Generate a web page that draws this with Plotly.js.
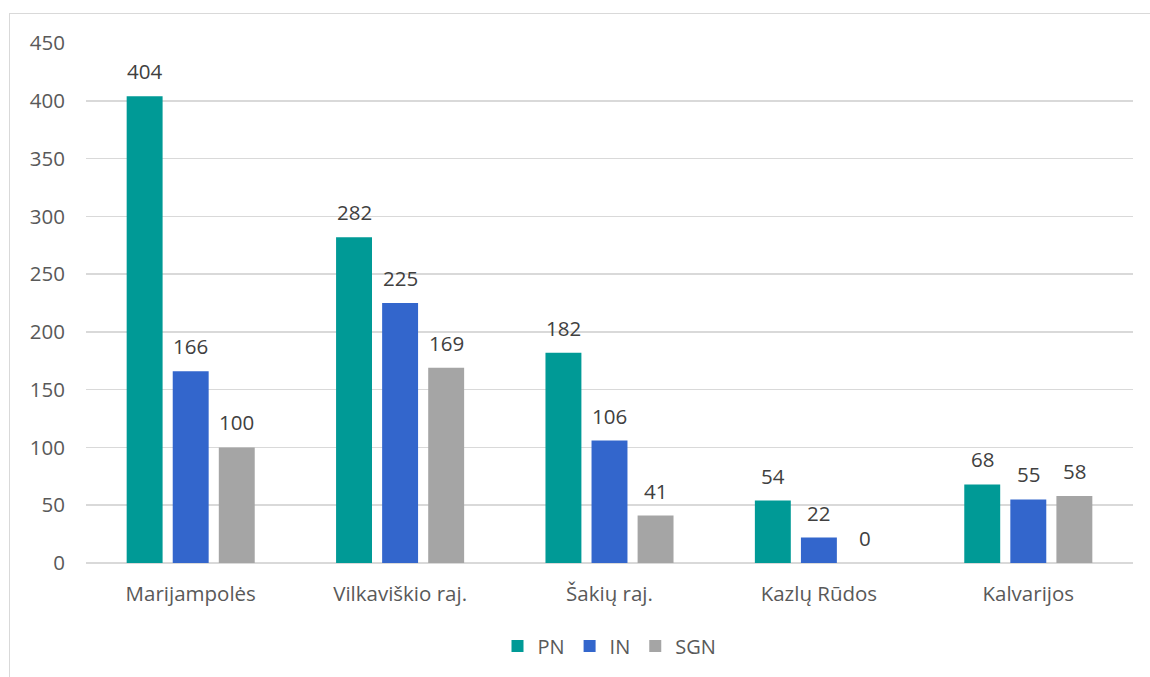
<!DOCTYPE html>
<html><head><meta charset="utf-8">
<script src="https://cdn.plot.ly/plotly-3.0.1.min.js"></script>
<style>
html,body{margin:0;padding:0;background:#fff;overflow:hidden;}
#chart{position:absolute;left:0;top:0;width:1150px;height:677px;}
#frame{position:absolute;left:9px;top:13px;width:1160px;height:700px;border:1px solid #d9d9d9;pointer-events:none;}
</style></head>
<body>
<div id="frame"></div>
<div id="chart"></div>
<script>
const categories = ["Marijampolės", "Vilkaviškio raj.", "Šakių raj.", "Kazlų Rūdos", "Kalvarijos"];
const seriesNames = ["PN", "IN", "SGN"];
const pn = [404, 282, 182, 54, 68];
const inn = [166, 225, 106, 22, 55];
const sgn = [100, 169, 41, 0, 58];
const colors = ["#009a96", "#3366cc", "#a5a5a5"];
const yTicks = [0, 50, 100, 150, 200, 250, 300, 350, 400, 450];

const font = "Open Sans, Noto Sans, sans-serif";
const W = 1150, H = 677, mL = 86, mR = 17, mT = 43, mB = 114;
const bargap = 0.34, bargroupgap = 0.22;
const allSeries = [pn, inn, sgn];
const data = allSeries.map((vals, i) => ({
  type: "bar", name: seriesNames[i], x: categories, y: vals,
  marker: {color: colors[i]},
  hoverinfo: "none"
}));
// value labels above each bar, shifted to its slot in the group
const catW = (W - mL - mR) / categories.length;
const slotW = catW * (1 - bargap) / allSeries.length;
const annotations = [];
allSeries.forEach((vals, i) => {
  vals.forEach((v, j) => {
    annotations.push({
      x: categories[j], y: v, text: String(v), showarrow: false,
      xanchor: "center", yanchor: "bottom", yshift: 9,
      xshift: (i - (allSeries.length - 1) / 2) * slotW,
      font: {size: 20.5, color: "#404040", family: font}
    });
  });
});
const layout = {
  width: W, height: H,
  margin: {l: mL, r: mR, t: mT, b: mB, autoexpand: false},
  paper_bgcolor: "rgba(0,0,0,0)", plot_bgcolor: "rgba(0,0,0,0)",
  barmode: "group", bargap: bargap, bargroupgap: bargroupgap,
  font: {family: font, color: "#595959", size: 20.5},
  xaxis: {tickfont: {size: 20.5, color: "#595959"}, showline: false, ticks: "", showgrid: false,
          ticklabelstandoff: 16, automargin: false},
  yaxis: {range: [0, 450], tickvals: yTicks, tickfont: {size: 20.5, color: "#595959"},
          gridcolor: "#d9d9d9", gridwidth: 1.5, zeroline: true, zerolinecolor: "#d9d9d9", zerolinewidth: 1.5,
          ticklabelstandoff: 20, fixedrange: true, automargin: false},
  legend: {orientation: "h", x: 0.5, xref: "paper", xanchor: "center", y: 1 - 646 / H, yref: "container", yanchor: "middle",
           font: {size: 20, color: "#595959"}, traceorder: "normal"},
  annotations: annotations,
  showlegend: true
};
Plotly.newPlot("chart", data, layout, {displayModeBar: false, staticPlot: true});
</script>
</body></html>
